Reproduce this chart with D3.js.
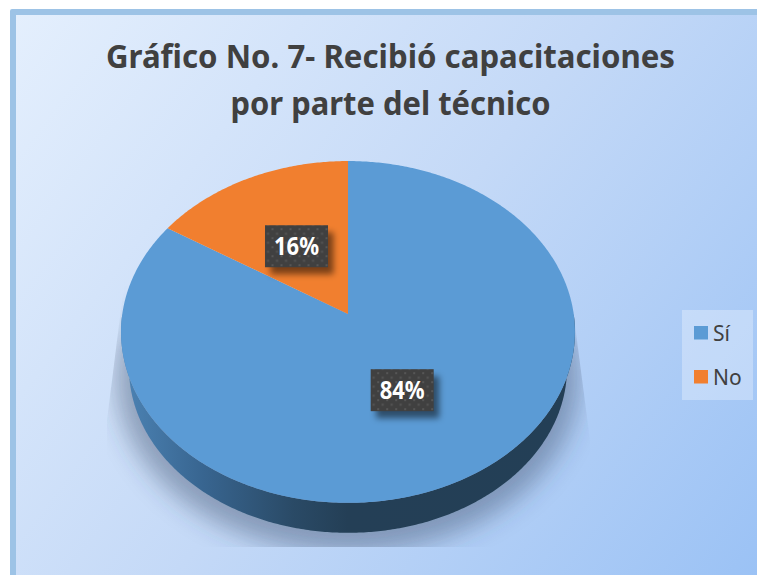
<!DOCTYPE html>
<html>
<head>
<meta charset="utf-8">
<script src="https://cdn.jsdelivr.net/npm/d3@7"></script>
<style>
html, body { margin: 0; padding: 0; background: #fff; overflow: hidden; }
svg { display: block; }
text { font-family: "Noto Sans", sans-serif; }
.titulo { font-size: 33px; font-weight: 700; fill: #404040; text-anchor: middle; }
.etiqueta { font-size: 25px; font-weight: 700; fill: #fff; text-anchor: middle; }
.leyenda { font-size: 21px; fill: #404040; }
</style>
</head>
<body>
<script>
var categorias = ["Sí", "No"];
var valores = [84, 16];
var colores = ["#5b9bd5", "#f17f2f"];
var tituloLineas = ["Gráfico No. 7- Recibió capacitaciones", "por parte del técnico"];

var width = 757,
    height = 575;

// perspective of the disc: apex of the wedges is not the middle of the ellipse
var cx = 348, cy = 314, ra = 225.7, rb = 169, persp = 0.105;

function proyectar(ang, r, escala, baja) {
  var u = Math.sin(ang) * r,
      v = Math.cos(ang) * r,
      d = 1 + persp * v;
  return [cx + ra * escala * u / d, cy + baja - rb * escala * v / d];
}

function curva(a0, a1, escala, baja) {
  var n = Math.max(2, Math.ceil(Math.abs(a1 - a0) / 0.01));
  return d3.range(n + 1).map(function(i) {
    return proyectar(a0 + (a1 - a0) * i / n, 1, escala, baja);
  });
}

var linea = d3.line();

var svg = d3.select("body").append("svg")
    .attr("width", width)
    .attr("height", height);

var defs = svg.append("defs");

var fondo = defs.append("linearGradient").attr("id", "fondo")
    .attr("gradientUnits", "userSpaceOnUse")
    .attr("x1", 16).attr("y1", 15).attr("x2", 757).attr("y2", 575);
fondo.append("stop").attr("offset", 0).attr("stop-color", "#e4effd");
fondo.append("stop").attr("offset", 0.5).attr("stop-color", "#c4d9f7");
fondo.append("stop").attr("offset", 1).attr("stop-color", "#9bc2f5");

var pared = defs.append("linearGradient").attr("id", "pared")
    .attr("gradientUnits", "userSpaceOnUse")
    .attr("x1", 122).attr("y1", 0).attr("x2", 574).attr("y2", 0);
pared.append("stop").attr("offset", 0).attr("stop-color", "#4c83b4");
pared.append("stop").attr("offset", 0.18).attr("stop-color", "#386590");
pared.append("stop").attr("offset", 0.38).attr("stop-color", "#2a4a66");
pared.append("stop").attr("offset", 0.5).attr("stop-color", "#243f56");
pared.append("stop").attr("offset", 1).attr("stop-color", "#233f56");

defs.append("filter").attr("id", "difuso")
    .attr("x", "-20%").attr("y", "-20%").attr("width", "140%").attr("height", "140%")
  .append("feGaussianBlur").attr("stdDeviation", 12);

defs.append("filter").attr("id", "difusoCaja")
    .attr("x", "-30%").attr("y", "-30%").attr("width", "160%").attr("height", "160%")
  .append("feGaussianBlur").attr("stdDeviation", 3);

// shadow is cut flat at the bottom and narrows towards the top
defs.append("clipPath").attr("id", "corteSombra")
  .append("path")
    .attr("d", "M124,285L107,420L107,547L590,547L590,440L573,310Z");

var fade = defs.append("linearGradient").attr("id", "fadeSombra")
    .attr("x1", 0).attr("y1", 0).attr("x2", 0).attr("y2", 1);
fade.append("stop").attr("offset", 0).attr("stop-color", "#000");
fade.append("stop").attr("offset", 0.05).attr("stop-color", "#000");
fade.append("stop").attr("offset", 0.3).attr("stop-color", "#fff");
fade.append("stop").attr("offset", 1).attr("stop-color", "#fff");
defs.append("mask").attr("id", "mascaraSombra")
    .attr("maskUnits", "userSpaceOnUse")
    .attr("x", 0).attr("y", 260).attr("width", width).attr("height", 300)
  .append("rect")
    .attr("x", 0).attr("y", 260).attr("width", width).attr("height", 300)
    .attr("fill", "url(#fadeSombra)");

var puntos = defs.append("pattern").attr("id", "puntos")
    .attr("patternUnits", "userSpaceOnUse")
    .attr("width", 9).attr("height", 9);
puntos.append("rect").attr("width", 9).attr("height", 9).attr("fill", "#404040");
puntos.append("rect").attr("x", 1).attr("y", 1).attr("width", 2).attr("height", 2).attr("fill", "#565656");
puntos.append("rect").attr("x", 5.5).attr("y", 5.5).attr("width", 2).attr("height", 2).attr("fill", "#565656");

// frame and background
svg.append("rect")
    .attr("x", 10).attr("y", 9).attr("width", width).attr("height", height)
    .attr("rx", 2)
    .attr("fill", "#9dc3e6");
svg.append("rect")
    .attr("x", 16).attr("y", 15).attr("width", width).attr("height", height)
    .attr("fill", "url(#fondo)");

// title
svg.selectAll(".titulo")
    .data(tituloLineas)
    .enter().append("text")
    .attr("class", "titulo")
    .attr("x", 390.5)
    .attr("y", function(d, i) { return 68 + i * 47; })
    .attr("textLength", function(d, i) { return i == 0 ? 569 : 320; })
    .attr("lengthAdjust", "spacingAndGlyphs")
    .text(function(d) { return d; });

var pie = d3.pie().sort(null).value(function(d) { return d; });
var arcos = pie(valores);

// shadow
svg.append("g")
    .attr("clip-path", "url(#corteSombra)")
  .append("g")
    .attr("mask", "url(#mascaraSombra)")
  .append("path")
    .attr("d", linea(curva(0, 2 * Math.PI, 1.02, 46)) + "Z")
    .attr("fill", "#3a4a64")
    .attr("fill-opacity", 0.42)
    .attr("filter", "url(#difuso)");

// side wall: visible lower half only
var bajaPared = 36.6, escalaPared = 0.965;
svg.append("path")
    .attr("d", linea(curva(Math.PI / 2, 3 * Math.PI / 2, 1, 0)
        .concat(curva(3 * Math.PI / 2, Math.PI / 2, escalaPared, bajaPared))) + "Z")
    .attr("fill", "url(#pared)");

// top of the disc
svg.selectAll(".porcion")
    .data(arcos)
    .enter().append("path")
    .attr("class", "porcion")
    .attr("d", function(d) {
      return linea([[cx, cy]].concat(curva(d.startAngle, d.endAngle, 1, 0))) + "Z";
    })
    .attr("fill", function(d, i) { return colores[i]; });

// percent labels
var rotulo = svg.selectAll(".rotulo")
    .data(arcos)
    .enter().append("g")
    .attr("class", "rotulo")
    .attr("transform", function(d) {
      var p = proyectar((d.startAngle + d.endAngle) / 2, 0.485, 1, 0);
      return "translate(" + p[0] + "," + p[1] + ")";
    });

rotulo.append("rect")
    .attr("x", -27).attr("y", -13).attr("width", 63).attr("height", 42)
    .attr("fill", "#000")
    .attr("fill-opacity", 0.5)
    .attr("filter", "url(#difusoCaja)");
rotulo.append("rect")
    .attr("x", -32.5).attr("y", -20).attr("width", 63).attr("height", 42)
    .attr("fill", "url(#puntos)");
rotulo.append("text")
    .attr("class", "etiqueta")
    .attr("x", -1)
    .attr("y", 10)
    .attr("textLength", 45)
    .attr("lengthAdjust", "spacingAndGlyphs")
    .text(function(d) { return d.value + "%"; });

// legend
svg.append("rect")
    .attr("x", 682).attr("y", 310).attr("width", 71).attr("height", 90)
    .attr("fill", "#fff")
    .attr("fill-opacity", 0.3);

var leyenda = svg.selectAll(".itemLeyenda")
    .data(categorias)
    .enter().append("g")
    .attr("class", "itemLeyenda")
    .attr("transform", function(d, i) { return "translate(694," + (326 + i * 44) + ")"; });

leyenda.append("rect")
    .attr("width", 14).attr("height", 13.5)
    .attr("fill", function(d, i) { return colores[i]; });
leyenda.append("text")
    .attr("class", "leyenda")
    .attr("x", 19)
    .attr("y", 14.5)
    .text(function(d) { return d; });
</script>
</body>
</html>
